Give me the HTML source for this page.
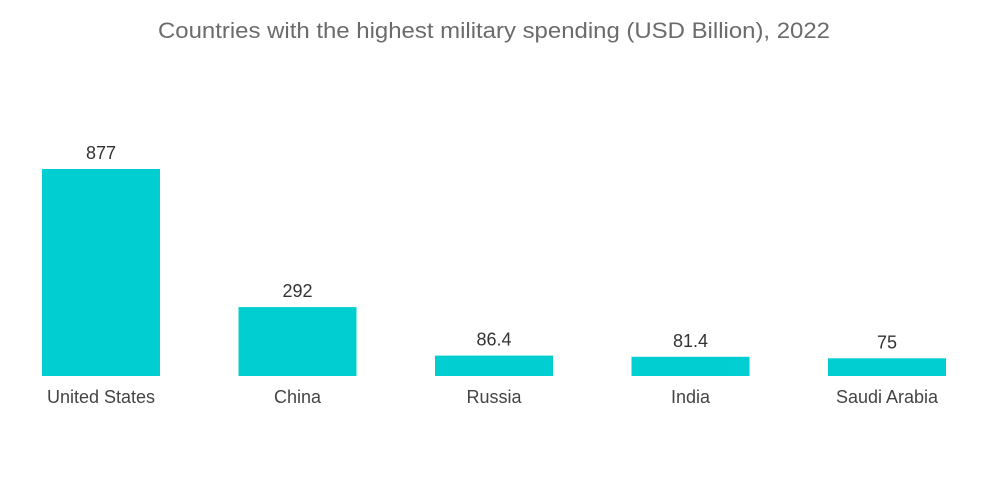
<!DOCTYPE html>
<html><head><meta charset="utf-8"><style>
body{margin:0;background:#fff;}
svg{display:block;font-family:"Liberation Sans",sans-serif;}
</style></head><body>
<svg id="c" width="1000" height="504">
<text x="494" y="38" text-anchor="middle" font-size="22" textLength="672" lengthAdjust="spacingAndGlyphs" fill="#6b6b6b">Countries with the highest military spending (USD Billion), 2022</text>
</svg>
<script>
const categories=["United States","China","Russia","India","Saudi Arabia"];
const values=[877,292,86.4,81.4,75];
const valueLabels=["877","292","86.4","81.4","75"];
const svg=document.getElementById('c');
const NS='http://www.w3.org/2000/svg';
const base=376, scale=207/877, x0=42, step=196.5, bw=118;
function y(v){return base-v*scale;}
function x(i){return x0+i*step;}
categories.forEach((c,i)=>{
  const r=document.createElementNS(NS,'rect');
  r.setAttribute('x',x(i));r.setAttribute('y',y(values[i]));
  r.setAttribute('width',bw);r.setAttribute('height',base-y(values[i]));
  r.setAttribute('fill','#00ced1');
  
  
  svg.appendChild(r);
  const t=document.createElementNS(NS,'text');
  t.setAttribute('x',x(i)+bw/2);t.setAttribute('y',y(values[i])-10);
  t.setAttribute('text-anchor','middle');t.setAttribute('font-size','18');t.setAttribute('fill','#333');
  t.textContent=valueLabels[i];
  
  
  svg.appendChild(t);
  const l=document.createElementNS(NS,'text');
  l.setAttribute('x',x(i)+bw/2);l.setAttribute('y',403);
  l.setAttribute('text-anchor','middle');l.setAttribute('font-size','18');l.setAttribute('fill','#444');
  l.textContent=c;
  
  
  svg.appendChild(l);
});
</script>
</body></html>
